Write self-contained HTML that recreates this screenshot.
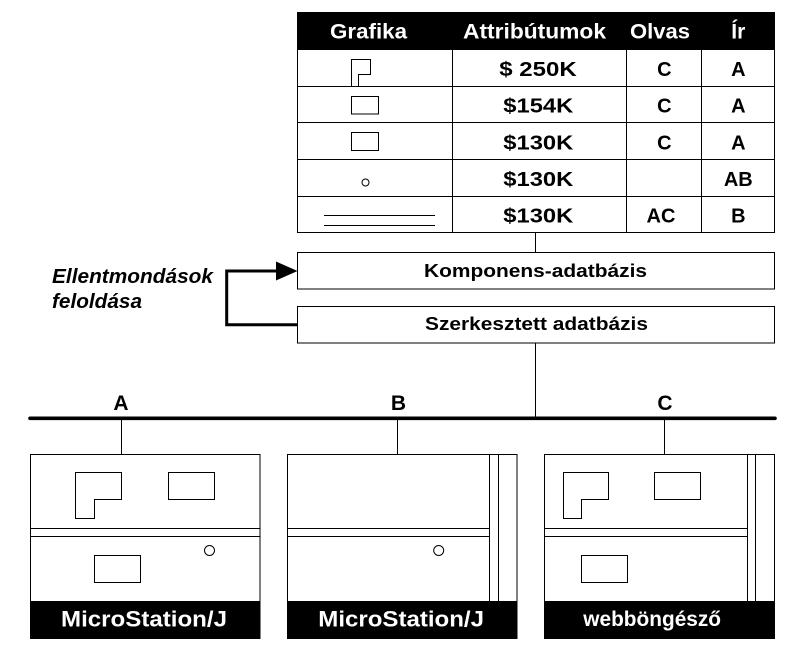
<!DOCTYPE html>
<html>
<head>
<meta charset="utf-8">
<style>
html,body{margin:0;padding:0;background:#fff;}
svg{display:block;}
text{font-family:"Liberation Sans",Arial,sans-serif;font-weight:bold;}
</style>
</head>
<body>
<svg width="791" height="650" viewBox="0 0 791 650" xmlns="http://www.w3.org/2000/svg">
<rect x="0" y="0" width="791" height="650" fill="#fff"/>

<!-- TABLE -->
<rect x="297.5" y="12.5" width="477" height="37.5" fill="#000"/>
<rect x="297.5" y="12.5" width="477" height="220" fill="none" stroke="#000" stroke-width="1"/>
<g stroke="#000" stroke-width="1">
  <line x1="297.5" y1="86.5" x2="774.5" y2="86.5"/>
  <line x1="297.5" y1="122.5" x2="774.5" y2="122.5"/>
  <line x1="297.5" y1="159.5" x2="774.5" y2="159.5"/>
  <line x1="297.5" y1="196.5" x2="774.5" y2="196.5"/>
  <line x1="452.5" y1="50" x2="452.5" y2="232.5"/>
  <line x1="626.5" y1="50" x2="626.5" y2="232.5"/>
  <line x1="701.5" y1="50" x2="701.5" y2="232.5"/>
</g>
<g fill="#fff" font-size="21">
  <text x="330" y="38.5" textLength="77" lengthAdjust="spacingAndGlyphs">Grafika</text>
  <text x="463" y="38.5" textLength="143" lengthAdjust="spacingAndGlyphs">Attribútumok</text>
  <text x="630" y="38.5" textLength="60" lengthAdjust="spacingAndGlyphs">Olvas</text>
  <text x="738.3" y="38.5" text-anchor="middle">Ír</text>
</g>
<g fill="#000" font-size="20">
  <text x="499.3" y="76" textLength="77.4" lengthAdjust="spacingAndGlyphs">$ 250K</text>
  <text x="503.3" y="112.7" textLength="70" lengthAdjust="spacingAndGlyphs">$154K</text>
  <text x="503.3" y="149.3" textLength="70" lengthAdjust="spacingAndGlyphs">$130K</text>
  <text x="503.3" y="186" textLength="70" lengthAdjust="spacingAndGlyphs">$130K</text>
  <text x="503.3" y="222.7" textLength="70" lengthAdjust="spacingAndGlyphs">$130K</text>
</g>
<g fill="#000" font-size="20" text-anchor="middle">
  <text x="664.3" y="76">C</text>
  <text x="664.3" y="112.7">C</text>
  <text x="664.3" y="149.3">C</text>
  <text x="661" y="222.7">AC</text>
  <text x="738.3" y="76">A</text>
  <text x="738.3" y="112.7">A</text>
  <text x="738.3" y="149.3">A</text>
  <text x="738.3" y="186">AB</text>
  <text x="738.3" y="222.7">B</text>
</g>
<g fill="none" stroke="#000" stroke-width="1">
  <path d="M351.5 86 V59.5 H370.5 V74.5 H358.5 V86"/>
  <rect x="351.5" y="96.5" width="27" height="17.5"/>
  <rect x="351.5" y="132.5" width="27" height="18"/>
  <circle cx="365.5" cy="182.5" r="3.5"/>
  <line x1="324" y1="215.5" x2="435" y2="215.5"/>
  <line x1="324" y1="225.5" x2="435" y2="225.5"/>
</g>

<!-- connectors to DB boxes -->
<g stroke="#000" stroke-width="1">
  <line x1="535.5" y1="232.5" x2="535.5" y2="252.5"/>
  <line x1="535.5" y1="343" x2="535.5" y2="417"/>
</g>

<!-- DB boxes -->
<rect x="297.5" y="252.5" width="477" height="36.5" fill="#fff" stroke="#000" stroke-width="1"/>
<rect x="297.5" y="306.5" width="477" height="36.5" fill="#fff" stroke="#000" stroke-width="1"/>
<text x="424" y="277" font-size="18.5" textLength="223" lengthAdjust="spacingAndGlyphs" fill="#000">Komponens-adatbázis</text>
<text x="425" y="330" font-size="18.5" textLength="223" lengthAdjust="spacingAndGlyphs" fill="#000">Szerkesztett adatbázis</text>

<!-- feedback arrow -->
<path d="M297 324.8 H226.7 V271 H278" fill="none" stroke="#000" stroke-width="3"/>
<polygon points="276,261.5 297.5,271 276,280.5" fill="#000"/>
<text x="52" y="283" font-size="20" font-style="italic" textLength="161" lengthAdjust="spacingAndGlyphs" fill="#000">Ellentmondások</text>
<text x="52" y="308" font-size="20" font-style="italic" textLength="90" lengthAdjust="spacingAndGlyphs" fill="#000">feloldása</text>

<!-- bus -->
<line x1="30" y1="418.3" x2="775" y2="418.3" stroke="#000" stroke-width="3.6" stroke-linecap="round"/>
<g font-size="21" fill="#000" text-anchor="middle">
  <text x="121" y="410">A</text>
  <text x="398.5" y="410">B</text>
  <text x="665" y="410">C</text>
</g>
<g stroke="#000" stroke-width="1">
  <line x1="121.5" y1="420" x2="121.5" y2="454.5"/>
  <line x1="397.5" y1="420" x2="397.5" y2="454.5"/>
  <line x1="664.5" y1="420" x2="664.5" y2="454.5"/>
</g>

<!-- Box 1 -->
<rect x="30.5" y="454.5" width="229.5" height="184" fill="#fff" stroke="#000" stroke-width="1"/>
<rect x="30" y="601" width="230.5" height="38" fill="#000"/>
<g stroke="#000" stroke-width="1" fill="none">
  <line x1="30.5" y1="528.5" x2="260" y2="528.5"/>
  <line x1="30.5" y1="536.5" x2="260" y2="536.5"/>
  <path d="M75.5 472.5 H121.5 V499.5 H94.5 V518.5 H75.5 Z"/>
  <rect x="168.5" y="472.5" width="46" height="27"/>
  <rect x="94.5" y="555.5" width="46" height="27"/>
  <circle cx="209.5" cy="550.5" r="5"/>
</g>
<text x="61" y="626.5" font-size="22" textLength="166" lengthAdjust="spacingAndGlyphs" fill="#fff">MicroStation/J</text>

<!-- Box 2 -->
<rect x="287.5" y="454.5" width="229.5" height="184" fill="#fff" stroke="#000" stroke-width="1"/>
<rect x="287" y="601" width="230.5" height="38" fill="#000"/>
<g stroke="#000" stroke-width="1" fill="none">
  <line x1="489.5" y1="454.5" x2="489.5" y2="601"/>
  <line x1="498.5" y1="454.5" x2="498.5" y2="601"/>
  <line x1="287.5" y1="528.5" x2="489.5" y2="528.5"/>
  <line x1="287.5" y1="536.5" x2="489.5" y2="536.5"/>
  <circle cx="438.7" cy="550.5" r="5"/>
</g>
<text x="318.3" y="626.5" font-size="22" textLength="165.7" lengthAdjust="spacingAndGlyphs" fill="#fff">MicroStation/J</text>

<!-- Box 3 -->
<rect x="544.5" y="454.5" width="230" height="184" fill="#fff" stroke="#000" stroke-width="1"/>
<rect x="544" y="601" width="231" height="38" fill="#000"/>
<g stroke="#000" stroke-width="1" fill="none">
  <line x1="747.5" y1="454.5" x2="747.5" y2="601"/>
  <line x1="755.5" y1="454.5" x2="755.5" y2="601"/>
  <line x1="544.5" y1="528.5" x2="747.5" y2="528.5"/>
  <line x1="544.5" y1="536.5" x2="747.5" y2="536.5"/>
  <path d="M563.5 472.5 H608.5 V499.5 H581.5 V518.5 H563.5 Z"/>
  <rect x="654.5" y="472.5" width="46" height="27"/>
  <rect x="581.5" y="555.5" width="46" height="27"/>
</g>
<text x="583.3" y="626" font-size="21" textLength="137.7" lengthAdjust="spacingAndGlyphs" fill="#fff">webböngésző</text>
</svg>
</body>
</html>
